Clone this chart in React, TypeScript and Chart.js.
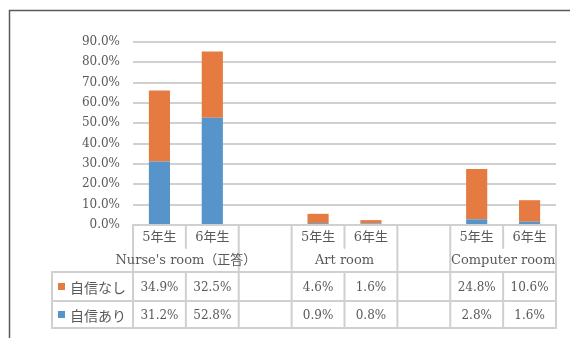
import React, { useEffect, useRef } from "react";
import { Chart, registerables } from "chart.js";

Chart.register(...registerables);

const categories = ["5年生", "6年生", "", "5年生", "6年生", "", "5年生", "6年生"];
const groupLabels = ["Nurse's room（正答）", "", "Art room", "", "Computer room"];
const groupSizes = [2, 1, 2, 1, 2];
const seriesNames = ["自信なし", "自信あり"];
const notConfident: (number | null)[] = [34.9, 32.5, null, 4.6, 1.6, null, 24.8, 10.6];
const confident: (number | null)[] = [31.2, 52.8, null, 0.9, 0.8, null, 2.8, 1.6];
const yMax = 90;
const yStep = 10;

const ORANGE = "#E67B41";
const BLUE = "#5694C9";
const GRID = "#D0D0D0";
const TEXT = "#595959";
const SERIF = "'DejaVu Serif', 'Noto Sans CJK JP', serif";

const tablePlugin = {
  id: "dataTable",
  afterDraw(chart: any) {
    const ctx = chart.ctx as CanvasRenderingContext2D;
    const area = chart.chartArea;
    const n = categories.length;
    const w = (area.right - area.left) / n;
    const b = (i: number) => area.left + i * w;
    const y0 = area.bottom;
    const y1 = y0 + 23;
    const y2 = y0 + 47;
    const y3 = y0 + 76;
    const y4 = y0 + 103;
    const tableLeft = 52;

    ctx.save();
    // outer frame
    ctx.strokeStyle = "#5a5a5a";
    ctx.lineWidth = 1.5;
    ctx.beginPath();
    ctx.moveTo(9.5, 400);
    ctx.lineTo(9.5, 10.5);
    ctx.lineTo(600, 10.5);
    ctx.stroke();

    ctx.strokeStyle = GRID;
    ctx.lineWidth = 2;
    ctx.lineCap = "round";
    const line = (xa: number, ya: number, xb: number, yb: number) => {
      ctx.beginPath();
      ctx.moveTo(xa, ya);
      ctx.lineTo(xb, yb);
      ctx.stroke();
    };
    line(area.left, y0, area.right, y0);
    line(tableLeft, y2, area.right, y2);
    line(tableLeft, y3, area.right, y3);
    line(tableLeft, y4, area.right, y4);
    line(tableLeft, y2, tableLeft, y4);

    const groupBounds = new Set<number>();
    let acc = 0;
    groupBounds.add(0);
    for (const s of groupSizes) {
      acc += s;
      groupBounds.add(acc);
    }
    for (let i = 0; i <= n; i++) {
      const x = b(i);
      if (groupBounds.has(i)) {
        line(x, y0, x, y4);
      } else {
        line(x, y0, x, y1);
        line(x, y2, x, y4);
      }
    }

    ctx.fillStyle = TEXT;
    ctx.textAlign = "center";
    ctx.textBaseline = "middle";
    ctx.font = `13px ${SERIF}`;
    for (let i = 0; i < n; i++) {
      if (categories[i]) ctx.fillText(categories[i], b(i) + w / 2, (y0 + y1) / 2 + 1);
    }
    acc = 0;
    groupLabels.forEach((g, gi) => {
      const start = acc;
      acc += groupSizes[gi];
      if (g) ctx.fillText(g, (b(start) + b(acc)) / 2, (y1 + y2) / 2 + 1);
    });

    ctx.font = `12px ${SERIF}`;
    const rows = [notConfident, confident];
    const rowY = [(y2 + y3) / 2 + 1, (y3 + y4) / 2 + 1];
    rows.forEach((vals, r) => {
      vals.forEach((v, i) => {
        if (v !== null) ctx.fillText(v.toFixed(1) + "%", b(i) + w / 2, rowY[r]);
      });
    });

    // legend keys
    const colors = [ORANGE, BLUE];
    ctx.textAlign = "left";
    ctx.font = `14px 'Noto Sans CJK JP', sans-serif`;
    seriesNames.forEach((name, r) => {
      ctx.fillStyle = colors[r];
      ctx.fillRect(58, rowY[r] - 4.5, 7, 7);
      ctx.fillStyle = TEXT;
      ctx.fillText(name, 70, rowY[r]);
    });
    ctx.restore();
  },
};

export default function App() {
  const ref = useRef<HTMLCanvasElement>(null);
  useEffect(() => {
    if (!ref.current) return;
    const chart = new Chart(ref.current, {
      type: "bar",
      data: {
        labels: categories,
        datasets: [
          { label: seriesNames[1], data: confident, backgroundColor: BLUE },
          { label: seriesNames[0], data: notConfident, backgroundColor: ORANGE },
        ],
      },
      options: {
        responsive: false,
        animation: false,
        layout: { padding: { left: 0, right: 14, top: 42, bottom: 113 } },
        plugins: { legend: { display: false }, tooltip: { enabled: false } },
        datasets: { bar: { categoryPercentage: 1, barPercentage: 0.4 } },
        scales: {
          x: { stacked: true, display: false },
          y: {
            stacked: true,
            min: 0,
            max: yMax,
            border: { display: false },
            grid: { color: GRID, lineWidth: 2, drawTicks: false },
            ticks: {
              stepSize: yStep,
              padding: 13,
              color: TEXT,
              font: { family: SERIF, size: 12 },
              callback: (v: any) => Number(v).toFixed(1) + "%",
            },
            afterFit: (s: any) => {
              s.width = 133;
            },
          },
        },
      },
      plugins: [tablePlugin],
    });
    return () => chart.destroy();
  }, []);
  return (
    <canvas
      ref={ref}
      width={570}
      height={338}
      style={{ position: "absolute", left: 0, top: 0, width: 570, height: 338 }}
    />
  );
}
